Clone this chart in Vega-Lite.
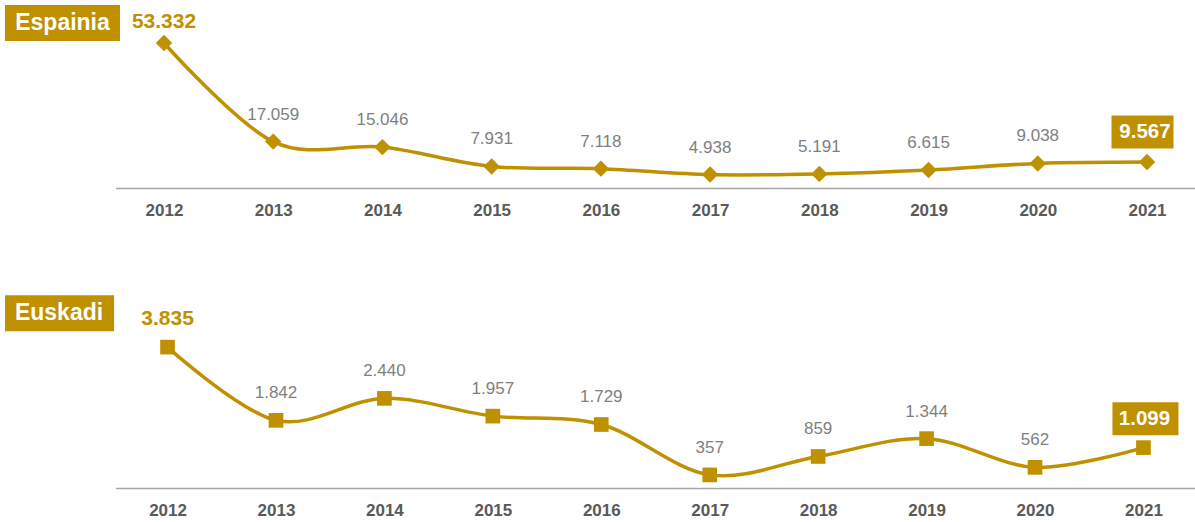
{
  "$schema": "https://vega.github.io/schema/vega-lite/v6.json",
  "padding": {"left": 4.5, "top": 0, "right": 0, "bottom": 0},
  "config": {
    "view": {"stroke": null},
    "font": "Liberation Sans"
  },
  "spacing": 70,
  "data": {
    "values": [
      {"region": "Espainia", "year": "2012", "value": 53332, "label": "53.332"},
      {"region": "Espainia", "year": "2013", "value": 17059, "label": "17.059"},
      {"region": "Espainia", "year": "2014", "value": 15046, "label": "15.046"},
      {"region": "Espainia", "year": "2015", "value": 7931, "label": "7.931"},
      {"region": "Espainia", "year": "2016", "value": 7118, "label": "7.118"},
      {"region": "Espainia", "year": "2017", "value": 4938, "label": "4.938"},
      {"region": "Espainia", "year": "2018", "value": 5191, "label": "5.191"},
      {"region": "Espainia", "year": "2019", "value": 6615, "label": "6.615"},
      {"region": "Espainia", "year": "2020", "value": 9038, "label": "9.038"},
      {"region": "Espainia", "year": "2021", "value": 9567, "label": "9.567"},
      {"region": "Euskadi", "year": "2012", "value": 3835, "label": "3.835"},
      {"region": "Euskadi", "year": "2013", "value": 1842, "label": "1.842"},
      {"region": "Euskadi", "year": "2014", "value": 2440, "label": "2.440"},
      {"region": "Euskadi", "year": "2015", "value": 1957, "label": "1.957"},
      {"region": "Euskadi", "year": "2016", "value": 1729, "label": "1.729"},
      {"region": "Euskadi", "year": "2017", "value": 357, "label": "357"},
      {"region": "Euskadi", "year": "2018", "value": 859, "label": "859"},
      {"region": "Euskadi", "year": "2019", "value": 1344, "label": "1.344"},
      {"region": "Euskadi", "year": "2020", "value": 562, "label": "562"},
      {"region": "Euskadi", "year": "2021", "value": 1099, "label": "1.099"}
    ]
  },
  "vconcat": [
    {
      "width": 1080,
      "height": 188,
      "transform": [{"filter": "datum.region == 'Espainia'"}],
      "encoding": {
        "x": {"field": "year", "type": "ordinal", "scale": {"type": "point", "padding": 0.444},
          "axis": {"title": null, "domain": true, "domainColor": "#A6A6A6", "domainWidth": 1.5, "ticks": false, "labelPadding": 14, "labelFontSize": 17, "labelFontWeight": "bold", "labelColor": "#595959", "labelAngle": 0, "grid": false}},
        "y": {"field": "value", "type": "quantitative", "scale": {"domain": [0, 69148], "nice": false}, "axis": null}
      },
      "layer": [
        {
          "mark": {"type": "line", "interpolate": "cardinal", "color": "#BF9000", "strokeWidth": 3.5}
        },
        {
          "mark": {"type": "point", "shape": "diamond", "size": 270, "filled": true, "opacity": 1, "color": "#BF9000"}
        },
        {
          "transform": [{"filter": "datum.year != '2012' && datum.year != '2021'"}],
          "mark": {"type": "text", "dy": -27, "fontSize": 17, "color": "#7F7F7F", "baseline": "middle"},
          "encoding": {"text": {"field": "label", "type": "nominal"}}
        },
        {
          "transform": [{"filter": "datum.year == '2012'"}],
          "mark": {"type": "text", "dy": -21, "fontSize": 21, "fontWeight": "bold", "color": "#BF9000", "baseline": "middle"},
          "encoding": {"text": {"field": "label", "type": "nominal"}}
        },
        {
          "transform": [{"filter": "datum.year == '2021'"}],
          "mark": {"type": "point", "shape": "M-0.355,-0.465H0.265V-0.135H-0.355Z", "size": 40000, "filled": true, "opacity": 1, "strokeWidth": 0, "color": "#BF9000"}
        },
        {
          "transform": [{"filter": "datum.year == '2021'"}],
          "mark": {"type": "text", "dy": -30, "dx": -2, "fontSize": 20.5, "fontWeight": "bold", "color": "white", "baseline": "middle"},
          "encoding": {"text": {"field": "label", "type": "nominal"}}
        },
        {
          "transform": [{"filter": "datum.year == '2012'"}],
          "mark": {"type": "point", "shape": "M-1.59,-0.38H-0.44V-0.02H-1.59Z", "size": 40000, "filled": true, "opacity": 1, "strokeWidth": 0, "color": "#BF9000"}
        },
        {
          "transform": [{"filter": "datum.year == '2012'"}],
          "mark": {"type": "text", "dx": -101.5, "dy": -20, "fontSize": 23, "fontWeight": "bold", "color": "white", "baseline": "middle"},
          "encoding": {"text": {"field": "region", "type": "nominal"}}
        }
      ]
    },
    {
      "width": 1080,
      "height": 200,
      "transform": [{"filter": "datum.region == 'Euskadi'"}],
      "encoding": {
        "x": {"field": "year", "type": "ordinal", "scale": {"type": "point", "padding": 0.48},
          "axis": {"title": null, "domain": true, "domainColor": "#A6A6A6", "domainWidth": 1.5, "ticks": false, "labelPadding": 14, "labelFontSize": 17, "labelFontWeight": "bold", "labelColor": "#595959", "labelAngle": 0, "grid": false}},
        "y": {"field": "value", "type": "quantitative", "scale": {"domain": [0, 5445], "nice": false}, "axis": null}
      },
      "layer": [
        {
          "mark": {"type": "line", "interpolate": "cardinal", "color": "#BF9000", "strokeWidth": 3.5}
        },
        {
          "mark": {"type": "point", "shape": "square", "size": 215, "filled": true, "opacity": 1, "color": "#BF9000"}
        },
        {
          "transform": [{"filter": "datum.year != '2012' && datum.year != '2021'"}],
          "mark": {"type": "text", "dy": -27, "fontSize": 17, "color": "#7F7F7F", "baseline": "middle"},
          "encoding": {"text": {"field": "label", "type": "nominal"}}
        },
        {
          "transform": [{"filter": "datum.year == '2012'"}],
          "mark": {"type": "text", "dy": -28, "fontSize": 21, "fontWeight": "bold", "color": "#BF9000", "baseline": "middle"},
          "encoding": {"text": {"field": "label", "type": "nominal"}}
        },
        {
          "transform": [{"filter": "datum.year == '2021'"}],
          "mark": {"type": "point", "shape": "M-0.31,-0.455H0.35V-0.125H-0.31Z", "size": 40000, "filled": true, "opacity": 1, "strokeWidth": 0, "color": "#BF9000"}
        },
        {
          "transform": [{"filter": "datum.year == '2021'"}],
          "mark": {"type": "text", "dy": -29, "dx": 1, "fontSize": 20.5, "fontWeight": "bold", "color": "white", "baseline": "middle"},
          "encoding": {"text": {"field": "label", "type": "nominal"}}
        },
        {
          "transform": [{"filter": "datum.year == '2012'"}],
          "mark": {"type": "point", "shape": "M-1.625,-0.52H-0.535V-0.16H-1.625Z", "size": 40000, "filled": true, "opacity": 1, "strokeWidth": 0, "color": "#BF9000"}
        },
        {
          "transform": [{"filter": "datum.year == '2012'"}],
          "mark": {"type": "text", "dx": -108.5, "dy": -34, "fontSize": 23, "fontWeight": "bold", "color": "white", "baseline": "middle"},
          "encoding": {"text": {"field": "region", "type": "nominal"}}
        }
      ]
    }
  ]
}
